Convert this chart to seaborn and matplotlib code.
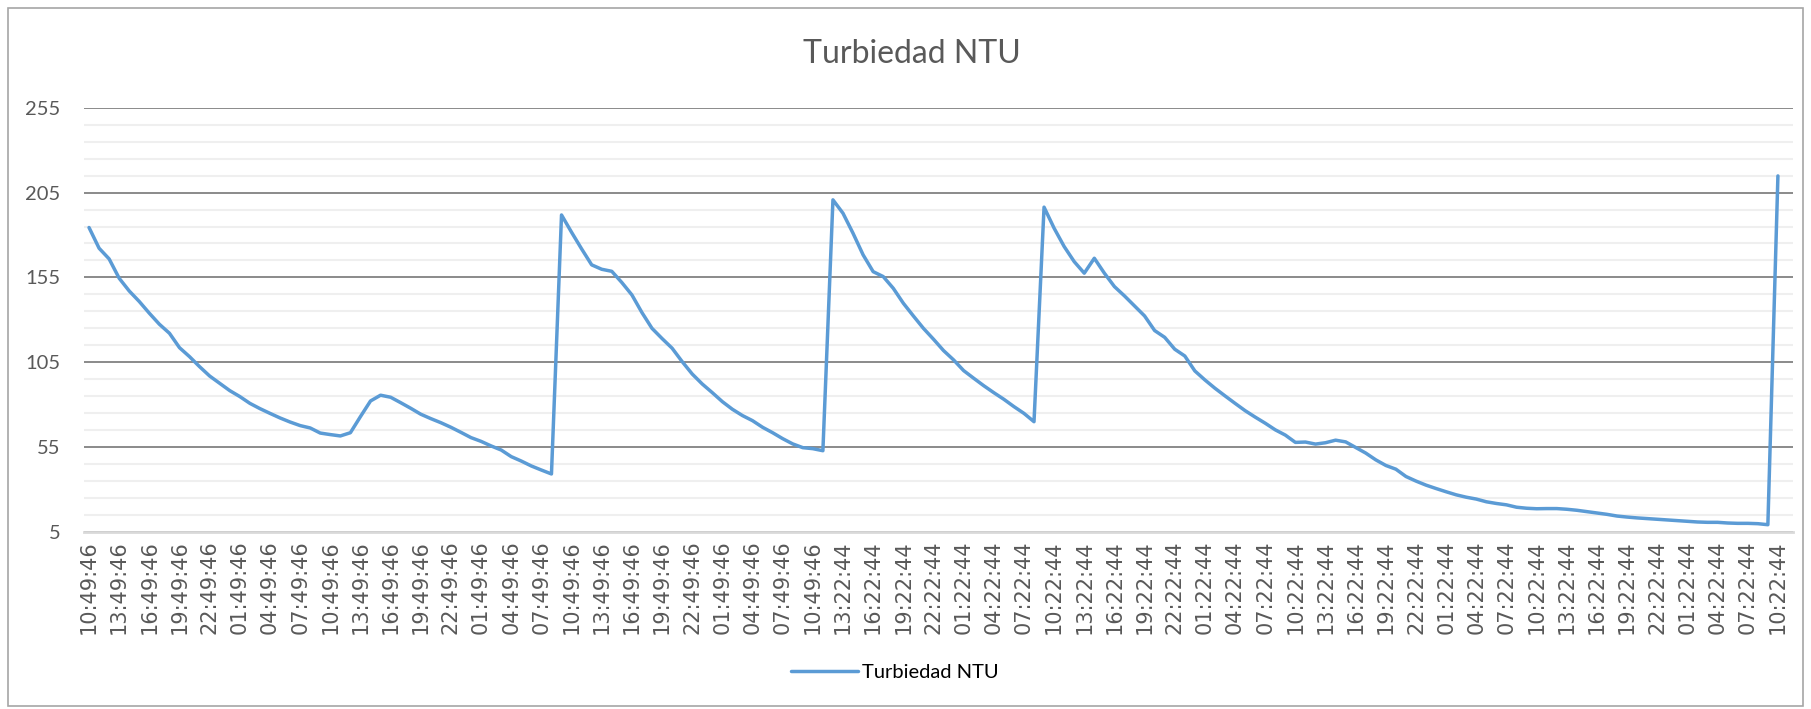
import numpy as np
import pandas as pd
import matplotlib
matplotlib.use("Agg")
import matplotlib.pyplot as plt
import seaborn as sns
from matplotlib.patches import Rectangle
from matplotlib.lines import Line2D

# ---------------- data (hourly readings, NTU) ----------------
ciclo_1 = [184.4, 172.2, 165.9, 154.5, 147.0, 140.8, 133.9, 127.4, 122.1, 113.6,
           108.3, 102.4, 96.9, 92.6, 88.3, 84.8, 80.8, 77.7, 74.9, 72.2,
           69.8, 67.7, 66.3, 63.3, 62.4, 61.6, 63.5, 73.0, 82.2, 85.6,
           84.4, 81.2, 77.9, 74.4, 71.8, 69.4, 66.7, 63.7, 60.6, 58.4,
           55.7, 53.3, 49.4, 46.8, 43.9, 41.5, 39.2]
ciclo_2 = [191.8, 181.6, 171.8, 162.4, 159.8, 158.6, 152.0, 144.7, 134.3, 125.0,
           119.0, 113.3, 105.4, 98.1, 92.2, 87.1, 81.8, 77.3, 73.6, 70.6,
           66.7, 63.5, 60.0, 56.9, 54.7, 54.1, 52.9]
ciclo_3 = [200.7, 192.8, 181.0, 168.3, 158.4, 155.5, 148.6, 139.8, 132.3, 125.0,
           118.6, 111.9, 106.4, 100.1, 95.6, 91.2, 87.1, 83.2, 78.9, 74.9,
           70.0]
ciclo_4 = [196.4, 184.0, 173.2, 164.3, 157.5, 166.3, 157.5, 149.6, 144.1, 138.2,
           132.3, 123.7, 119.7, 112.7, 108.7, 99.9, 94.6, 89.7, 85.2, 80.8,
           76.5, 72.7, 69.1, 65.2, 62.1, 57.8, 58.0, 56.8, 57.6, 59.1,
           58.1, 54.8, 51.5, 47.5, 44.2, 42.0, 37.7, 35.0, 32.6, 30.6,
           28.7, 26.9, 25.5, 24.4, 22.8, 21.8, 21.0, 19.6, 19.0, 18.7,
           18.8, 18.8, 18.4, 17.8, 17.0, 16.2, 15.4, 14.4, 13.8, 13.3,
           12.9, 12.5, 12.1, 11.7, 11.3, 10.9, 10.7, 10.7, 10.3, 10.1,
           10.1, 9.9, 9.3]
ciclo_5 = [214.8]

tick_labels = [
    "10:49:46", "13:49:46", "16:49:46", "19:49:46", "22:49:46", "01:49:46", "04:49:46", "07:49:46",
    "10:49:46", "13:49:46", "16:49:46", "19:49:46", "22:49:46", "01:49:46", "04:49:46", "07:49:46",
    "10:49:46", "13:49:46", "16:49:46", "19:49:46", "22:49:46", "01:49:46", "04:49:46", "07:49:46",
    "10:49:46",
    "13:22:44", "16:22:44", "19:22:44", "22:22:44", "01:22:44", "04:22:44", "07:22:44", "10:22:44",
    "13:22:44", "16:22:44", "19:22:44", "22:22:44", "01:22:44", "04:22:44", "07:22:44", "10:22:44",
    "13:22:44", "16:22:44", "19:22:44", "22:22:44", "01:22:44", "04:22:44", "07:22:44", "10:22:44",
    "13:22:44", "16:22:44", "19:22:44", "22:22:44", "01:22:44", "04:22:44", "07:22:44", "10:22:44",
]
label_step = 3
y_ticks = [5, 55, 105, 155, 205, 255]

series_name = "Turbiedad NTU"
turbiedad = ciclo_1 + ciclo_2 + ciclo_3 + ciclo_4 + ciclo_5
df = pd.DataFrame({"idx": np.arange(len(turbiedad)), series_name: turbiedad})

# ---------------- style ----------------
sns.set_theme(style="white")
plt.rcParams['font.family'] = ['Lato', 'DejaVu Sans']

W, H = 1811, 709
fig = plt.figure(figsize=(W / 100, H / 100), dpi=100)
left, right, top, bottom = 84 / W, 1793 / W, 1 - 107.7 / H, 1 - 532 / H
ax = fig.add_axes([left, bottom, right - left, top - bottom])

line_color = "#5B9BD5"
sns.lineplot(data=df, x="idx", y=series_name, color=line_color, linewidth=2.5,
             ax=ax, legend=False, zorder=3)

ax.set_xlim(-0.5, 169.5)
ax.set_ylim(5, 255)
ax.set_yticks(y_ticks)
ax.set_yticks(np.arange(5, 256, 10), minor=True)
ax.yaxis.grid(True, which="minor", color="#efefef", linewidth=1.5)
ax.yaxis.grid(True, which="major", color="#8a8a8a", linewidth=1.4)
ax.xaxis.grid(False)
ax.set_axisbelow(True)

for s in ["left", "right", "top"]:
    ax.spines[s].set_visible(False)
ax.spines["bottom"].set_color("#d9d9d9")
ax.spines["bottom"].set_linewidth(2.0)

ax.set_xticks(np.arange(0, len(tick_labels) * label_step, label_step))
ax.set_xticklabels(tick_labels, rotation=90, fontsize=15, color="#595959",
                   family=["DejaVu Sans"])
ax.set_yticklabels([str(v) for v in y_ticks], fontsize=14.5, color="#595959")
ax.tick_params(axis="x", length=0, pad=6)
ax.tick_params(axis="y", which="both", length=0, pad=17)
ax.set_xlabel("")
ax.set_ylabel("")

fig.text(912 / W, 1 - 54 / H, "Turbiedad NTU", ha="center", va="center",
         fontsize=23, color="#595959")

handle = Line2D([], [], color=line_color, linewidth=2.5)
fig.legend([handle], [series_name], loc="center", bbox_to_anchor=(895 / W, 1 - 672 / H),
           frameon=False, fontsize=14.5, handlelength=3.3, handletextpad=0.2,
           labelcolor="#000000")

fig.patches.append(Rectangle((8 / W, 3 / H), (1803 - 8) / W, (701 - 3) / H,
                             transform=fig.transFigure, fill=False,
                             edgecolor="#a6a6a6", linewidth=1.2))

fig.savefig("out.png", dpi=100)
